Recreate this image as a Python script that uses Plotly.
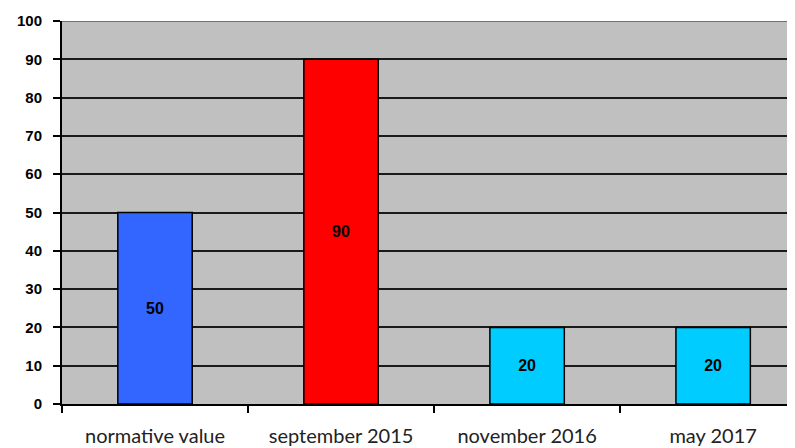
import plotly.graph_objects as go

categories = ["normative value", "september 2015", "november 2016", "may 2017"]
values = [50, 90, 20, 20]
colors = ["#3366FF", "#FF0000", "#00CCFF", "#00CCFF"]
y_ticks = list(range(0, 101, 10))

fig = go.Figure()
fig.add_trace(go.Bar(
    x=categories, y=values,
    marker=dict(color=colors, line=dict(color="black", width=1.5)),
    width=0.4,
    text=[str(v) for v in values],
    textposition="inside", insidetextanchor="middle",
    textfont=dict(family="Liberation Sans", size=16, color="black", weight="bold"),
    textangle=0,
))

# page body has an 8px default margin, so the figure is offset by (8, 8)
fig.update_layout(
    width=787, height=440,
    margin=dict(l=54, r=0, t=13, b=44, autoexpand=False),
    paper_bgcolor="white", plot_bgcolor="#C0C0C0",
    showlegend=False,
    bargap=0.6,
)
fig.update_xaxes(
    type="category", range=[-0.5, 3.44], automargin=False,
    tickson="boundaries", ticks="outside", ticklen=7, tickwidth=1.5, tickcolor="black",
    showline=True, linecolor="black", linewidth=2,
    showgrid=False,
    tickfont=dict(family="Lato", size=20, color="#222"),
    ticklabelstandoff=13,
)
fig.update_yaxes(
    range=[0, 100], tickvals=y_ticks, automargin=False,
    ticks="outside", ticklen=7, tickwidth=1.5, tickcolor="black",
    showline=True, linecolor="black", linewidth=2,
    showgrid=True, gridcolor="#1a1a1a", gridwidth=2,
    zeroline=False,
    tickfont=dict(family="Liberation Sans", size=15, color="black", weight="bold"),
    ticklabelstandoff=8,
)
fig.add_shape(type="line", xref="paper", yref="y", x0=0, x1=1, y0=100, y1=100,
              line=dict(color="#707070", width=2))
fig.write_html("out.html")
